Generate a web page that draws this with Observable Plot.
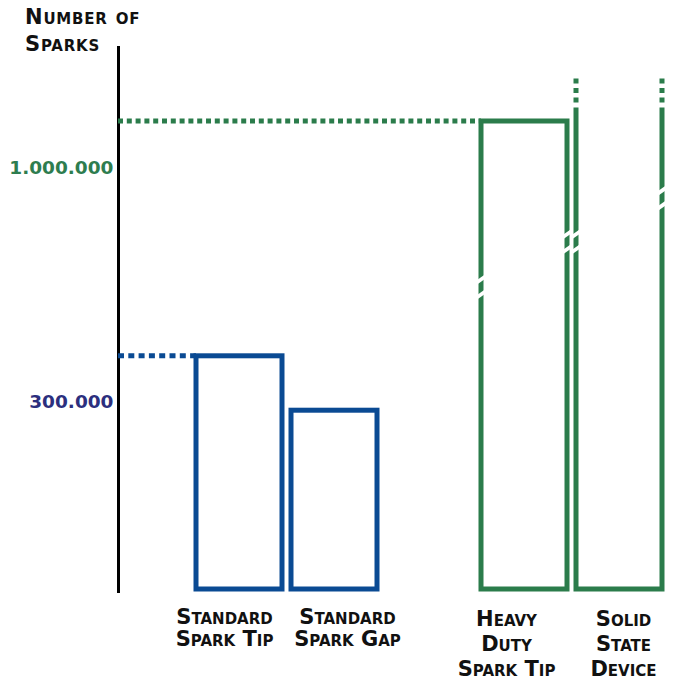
<!DOCTYPE html>
<html><head><meta charset="utf-8">
<script src="https://cdn.jsdelivr.net/npm/d3@7"></script>
<script src="https://cdn.jsdelivr.net/npm/@observablehq/plot@0.6"></script>
<style>
body{margin:0;background:#fff;}
#wrap{position:relative;width:675px;height:680px;}
#title{position:absolute;left:25px;top:4px;font-family:"DejaVu Sans",sans-serif;font-weight:700;font-size:21px;font-variant:small-caps;letter-spacing:0.8px;line-height:27px;color:#111;z-index:2;}
#wrap svg{position:absolute;left:0;top:0;}
g[aria-label="category-label"] text{letter-spacing:2.8px;}
</style></head><body>
<div id="wrap"><div id="title">Number of<br>Sparks</div></div>
<script>
// ---- data ----
const categories = ["Standard Spark Tip", "Standard Spark Gap", "Heavy Duty Spark Tip", "Solid State Device"];
const categoryLabels = ["Standard\nSpark Tip", "Standard\nSpark Gap", "Heavy\nDuty\nSpark Tip", "Solid\nState\nDevice"];
const sparks = [300000, 230000, 1000000, 1040000];
const groups = ["standard", "standard", "heavy", "heavy"];
const openTop = [false, false, false, true];   // bar continues off the chart
const levelLabels = ["300.000", "1.000.000"];
const levelValues = [300000, 1000000];
const levelGroups = ["standard", "heavy"];
const breakBars = ["Heavy Duty Spark Tip", "Heavy Duty Spark Tip", "Solid State Device", "Solid State Device"];
const breakSides = ["left", "right", "left", "right"];
const breakValues = [505000, 640000, 640000, 770000];
const spacer = " ";

// ---- styles ----
const barColor = {standard: "#0a4a93", heavy: "#2b7c4b"};
const labelColor = {standard: "#2c2f7e", heavy: "#2e7d4f"};
const guideDash = {standard: "6,4.3", heavy: "5,3.8"};
const labelNudge = {"Standard Spark Tip": -15, "Standard Spark Gap": 13, "Heavy Duty Spark Tip": -18, "Solid State Device": 4};
const labelLineHeight = {standard: 1.04, heavy: 1.19};
const font = "'DejaVu Sans', sans-serif";

const bars = categories.map((c, i) => ({category: c, label: categoryLabels[i], sparks: sparks[i], group: groups[i], openTop: openTop[i]}));
const levels = levelValues.map((v, i) => ({value: v, label: levelLabels[i], group: levelGroups[i]}));
const breaks = breakBars.map((b, i) => ({category: b, side: breakSides[i], value: breakValues[i]}));

function bw(x) { return x.bandwidth ? x.bandwidth() : 0; }

// dotted guides from the axis to the first bar of each level
function guides(index, scales, values, dim) {
  const {x, y} = scales;
  const g = d3.create("svg:g");
  for (const lv of levels) {
    const bar = bars.find(b => b.group === lv.group);
    g.append("line")
      .attr("x1", dim.marginLeft).attr("x2", x(bar.category))
      .attr("y1", y(lv.value)).attr("y2", y(lv.value))
      .attr("stroke", barColor[lv.group]).attr("stroke-width", 5)
      .attr("stroke-dasharray", guideDash[lv.group]);
  }
  return g.node();
}

// bars without top (continue off the chart)
function openBars(index, scales) {
  const {x, y} = scales;
  const g = d3.create("svg:g");
  for (const b of bars.filter(d => d.openTop)) {
    const x0 = x(b.category), x1 = x0 + bw(x), top = y(b.sparks), bottom = y(0);
    g.append("path")
      .attr("d", `M${x0},${top}V${bottom}H${x1}V${top}`)
      .attr("fill", "none").attr("stroke", barColor[b.group]).attr("stroke-width", 5)
      .attr("stroke-linejoin", "miter");
    for (const xs of [x0, x1]) {
      g.append("line")
        .attr("x1", xs).attr("x2", xs).attr("y1", top - 5).attr("y2", top - 29)
        .attr("stroke", barColor[b.group]).attr("stroke-width", 5)
        .attr("stroke-dasharray", "5,4.5");
    }
  }
  return g.node();
}

// white slashes marking the broken scale
function breakMarks(index, scales) {
  const {x, y} = scales;
  const g = d3.create("svg:g");
  for (const br of breaks) {
    const xs = br.side === "left" ? x(br.category) : x(br.category) + bw(x);
    const yc = y(br.value);
    for (const o of [-7.5, 7.5]) {
      g.append("line")
        .attr("x1", xs - 5).attr("x2", xs + 5)
        .attr("y1", yc + o + 3.5).attr("y2", yc + o - 3.5)
        .attr("stroke", "white").attr("stroke-width", 3.8);
    }
  }
  return g.node();
}

const closed = bars.filter(d => !d.openTop);
const labelMarks = bars.map(b => Plot.text([b], {
  x: "category", text: "label", frameAnchor: "bottom", lineAnchor: "top",
  dx: labelNudge[b.category], dy: 17, lineHeight: labelLineHeight[b.group],
  fontSize: 21, fontWeight: 700, fontVariant: "small-caps", fill: "#111", ariaLabel: "category-label"
}));

const chart = Plot.plot({
  width: 675,
  height: 680,
  marginLeft: 118,
  marginTop: 47,
  marginBottom: 89,
  marginRight: 8,
  style: {background: "transparent", fontFamily: font},
  x: {type: "band", domain: [categories[0], categories[1], spacer, categories[2], categories[3]],
      range: [191.5, 666.6], paddingInner: 0.09, paddingOuter: 0.045, axis: null},
  y: {type: "linear", domain: [0, 300000, 1000000], range: [589, 355.8, 121], axis: null},
  marks: [
    Plot.frame({anchor: "left", stroke: "#000", strokeWidth: 3}),
    guides,
    Plot.barY(closed.filter(d => d.group === "standard"), {x: "category", y: "sparks", fill: "none", stroke: barColor.standard, strokeWidth: 5}),
    Plot.barY(closed.filter(d => d.group === "heavy"), {x: "category", y: "sparks", fill: "none", stroke: barColor.heavy, strokeWidth: 5}),
    openBars,
    breakMarks,
    Plot.text(levels.filter(d => d.group === "standard"), {y: "value", text: "label", frameAnchor: "left", textAnchor: "end", lineAnchor: "middle", dx: -5, dy: 46, fill: labelColor.standard, fontSize: 18.5, fontWeight: 700}),
    Plot.text(levels.filter(d => d.group === "heavy"), {y: "value", text: "label", frameAnchor: "left", textAnchor: "end", lineAnchor: "middle", dx: -5, dy: 47, fill: labelColor.heavy, fontSize: 18.5, fontWeight: 700}),
    ...labelMarks
  ]
});
document.getElementById("wrap").appendChild(chart);
</script>
</body></html>
